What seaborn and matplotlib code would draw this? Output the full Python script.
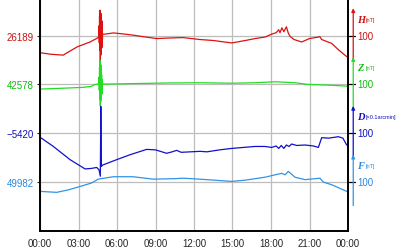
import numpy as np
import pandas as pd
import matplotlib
matplotlib.use("Agg")
import matplotlib.pyplot as plt
import matplotlib.transforms as mtransforms
import seaborn as sns

# ---------------- data ----------------
tick_hours = [0, 3, 6, 9, 12, 15, 18, 21, 24]
tick_labels = ["00:00", "03:00", "06:00", "09:00", "12:00", "15:00", "18:00", "21:00", "00:00"]

components = ["H", "Z", "D", "F"]
base_labels = ["26189", "42578", "\u22125420", "49982"]
units = ["[nT]", "[nT]", "[\u00d70.1arcmin]", "[nT]"]
scale_labels = ["100", "100", "100", "100"]
colors = ["#dd1111", "#22dd22", "#1111cc", "#3094e8"]
text_colors = ["#cc1111", "#11bb11", "#1111bb", "#2a88dd"]

h_hours = [0, 0.8, 1.8, 2.9, 3.9, 4.4, 4.58, 4.60, 4.62, 4.64, 4.66, 4.68, 4.70, 4.72, 4.74,
           4.76, 4.78, 4.80, 4.82, 4.84, 4.86, 4.88,
           5.06, 5.71, 6.3, 7.25, 8.0, 9.09, 10.0, 11.14, 12.47, 13.5, 14.94, 16.0, 16.76, 17.53,
           18.05, 18.4, 18.6, 18.7, 18.85, 19.0, 19.2, 19.35, 19.5, 19.8, 20.39, 21.0, 21.69,
           21.8, 21.95, 22.73, 23.3, 23.9, 24]
h_dev = [-35, -38, -40, -23, -13, -6, -3, 20, -15, 40, -30, 52, -52, 30, -40,
         45, -35, 25, -25, 30, -10, 3,
         3, 5.5, 4, 1, -2, -6, -5, -4, -8, -10, -15, -10, -6, -3,
         3, 6, 12, 6, 16, 8, 18, 5, -2, -8, -13, -6, -3,
         -2, -8, -16, -30, -43, -44]

z_hours = [0, 1.5, 3.35, 4.0, 4.29, 4.58, 4.60, 4.62, 4.64, 4.66, 4.68, 4.70, 4.72, 4.74,
           4.76, 4.78, 4.80, 4.82, 4.84, 4.88,
           5.2, 7.79, 10.0, 12.47, 14.94, 16.76, 18.31, 19.87, 20.88, 22.44, 24]
z_dev = [-9.5, -8, -6, -4, 0, 1, 15, -12, 35, -30, 49, -44, 30, -35, 40,
         -25, 20, -20, 10, 1,
         0.7, 2, 3, 3.5, 2.5, 3.5, 5.5, 3.5, 0, -1.4, -3.5]

d_hours = [0, 1.04, 2.34, 3.51, 4.0, 4.42, 4.6, 4.70, 4.74, 4.78, 4.89, 5.98, 7.01, 8.31, 9.0,
           9.87, 10.3, 10.65, 11.0, 12.47, 13.0, 14.0, 14.94, 16.76, 17.53, 18.05, 18.4, 18.6,
           18.8, 19.0, 19.2, 19.4, 19.61, 20.0, 20.65, 21.3, 21.69, 21.95, 22.5, 23.25, 23.6,
           23.9, 24]
d_dev = [-8, -27, -54, -73, -72, -70, -75, -88, 55, -68, -65, -54, -44, -33, -34,
         -41, -38, -35, -39, -37, -38, -34, -31, -27, -27, -29, -26, -31,
         -25, -31, -24, -27, -22, -25, -24, -26, -29, -9, -10, -7, -10,
         -24, -25]

f_hours = [0, 1.3, 2.2, 3.12, 4.0, 4.54, 5.71, 7.25, 8.83, 10.5, 11.14, 12.47, 14.94, 16.0,
           17.53, 18.5, 18.83, 19.1, 19.35, 19.87, 20.65, 21.82, 22.08, 22.73, 23.9, 24]
f_dev = [-19, -21, -16, -9, -2, 6, 11, 11, 6, 7, 8, 6, 1.4, 4,
         10, 16, 18, 15, 22, 10, 5, 8, 0, -5.4, -19, -20]

levels = [300, 200, 100, 0]   # stacking offset of each trace (grid spacing = 100 nT)

# ---------------- build long table ----------------
series = {"H": (h_hours, h_dev), "Z": (z_hours, z_dev), "D": (d_hours, d_dev), "F": (f_hours, f_dev)}
frames = []
for comp, lev in zip(components, levels):
    hrs, dev = series[comp]
    frames.append(pd.DataFrame({"hour": hrs, "value": np.array(dev, float) + lev, "comp": comp}))
df = pd.concat(frames, ignore_index=True)

# ---------------- plot ----------------
sns.set_style("white")
plt.rcParams["font.family"] = ["Liberation Sans", "DejaVu Sans"]

fig = plt.figure(figsize=(4.0, 2.51), dpi=100)
ax = fig.add_axes([0.1, 0.076, 0.77, 0.924])

for comp, col in zip(components, colors):
    sns.lineplot(data=df[df["comp"] == comp], x="hour", y="value", color=col,
                 lw=0.9, ax=ax, sort=False, estimator=None)

ax.set_xlim(0, 24)
ax.set_ylim(-100, 375)
ax.set_xlabel("")
ax.set_ylabel("")

ax.set_xticks(tick_hours)
ax.set_xticklabels(tick_labels, fontsize=7)
ax.set_xticks(np.arange(0, 25, 1), minor=True)
ax.tick_params(axis="x", which="major", direction="in", length=3, width=0.8, pad=5)
ax.tick_params(axis="x", which="minor", direction="in", length=1.5, width=0.6)

ax.set_yticks(levels)
ax.set_yticklabels(base_labels, fontsize=7)
for lab, c in zip(ax.get_yticklabels(), text_colors):
    lab.set_color(c)
ax.tick_params(axis="y", which="major", direction="out", length=2.5, width=0.8, pad=2, left=True)

ax.grid(True, color="#bdbdbd", lw=0.9)
ax.set_axisbelow(True)

for s in ["left", "right", "bottom"]:
    ax.spines[s].set_color("black")
    ax.spines[s].set_linewidth(1.4)
ax.spines["top"].set_visible(False)

# right-hand scale bars and labels
trans = mtransforms.blended_transform_factory(ax.transAxes, ax.transData)
for lev, col, tcol, comp, unit, sl in zip(levels, colors, text_colors, components, units, scale_labels):
    ax.annotate("", xy=(1.017, lev + 56), xytext=(1.017, lev - 48), xycoords=trans, textcoords=trans,
                arrowprops=dict(arrowstyle="-|>", color=col, lw=0.9, mutation_scale=5,
                                shrinkA=0, shrinkB=0), annotation_clip=False)
    ax.plot([1.004, 1.022], [lev, lev], transform=trans, color="black", lw=0.9, clip_on=False)
    ax.text(1.030, lev, sl, transform=trans, color=tcol, fontsize=7, va="center", ha="left")
    ax.text(1.028, lev + 34, comp, transform=trans, color=tcol, fontsize=7.5, va="center", ha="left",
            family=["Liberation Serif", "DejaVu Serif"], style="italic", weight="bold")
    ax.text(1.056, lev + 34, unit, transform=trans, color=tcol, fontsize=4.0, va="center", ha="left")

fig.savefig("out.png", dpi=100)
